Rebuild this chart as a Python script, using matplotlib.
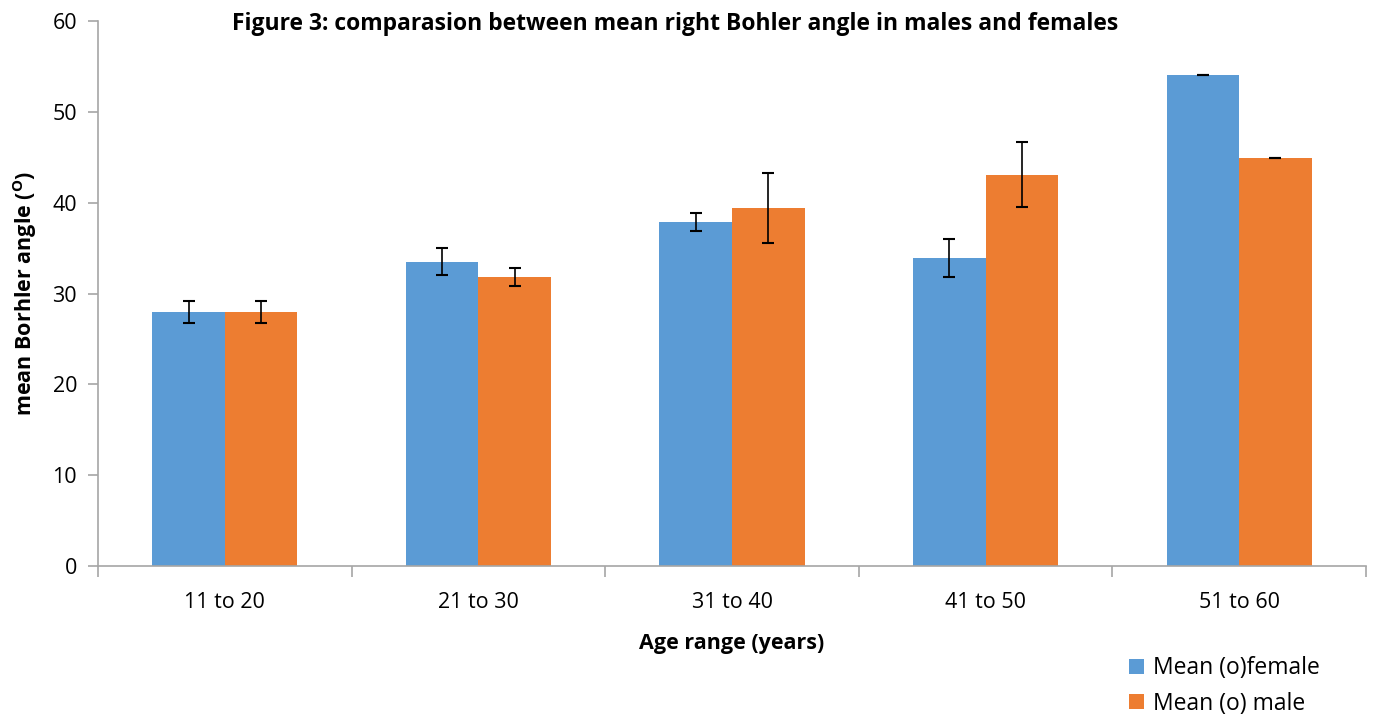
import numpy as np
import matplotlib.pyplot as plt

# data
age_ranges = ['11 to 20', '21 to 30', '31 to 40', '41 to 50', '51 to 60']
female_mean = [28.0, 33.5, 37.9, 33.9, 54.0]
female_err = [1.2, 1.5, 1.0, 2.1, 0.0]
male_mean = [28.0, 31.8, 39.4, 43.1, 44.9]
male_err = [1.2, 1.0, 3.85, 3.6, 0.0]

plt.rcParams['font.family'] = ['Open Sans', 'DejaVu Sans']

fig = plt.figure(figsize=(13.74, 7.19), dpi=100)
ax = fig.add_axes([98/1374, 1 - 566/719, 1268/1374, 545/719])

x = np.arange(len(age_ranges))
w = 0.286
ax.bar(x - w/2, female_mean, w, color='#5B9BD5', label='Mean (o)female',
       yerr=female_err, capsize=4, error_kw=dict(elinewidth=1.2, capthick=1.5, ecolor='black'))
ax.bar(x + w/2, male_mean, w, color='#ED7D31', label='Mean (o) male',
       yerr=male_err, capsize=4, error_kw=dict(elinewidth=1.2, capthick=1.5, ecolor='black'))

ax.set_xlim(-0.5, 4.5)
ax.set_ylim(0, 60)
ax.set_yticks(range(0, 61, 10))
ax.set_xticks(x)
ax.set_xticklabels(age_ranges)
ax.set_xticks(np.arange(-0.5, 5, 1), minor=True)
ax.tick_params(axis='x', which='major', length=0, labelsize=15.5, pad=19)
ax.tick_params(axis='x', which='minor', length=8, color='#A6A6A6', width=1.2)
ax.tick_params(axis='y', length=7, color='#A6A6A6', width=1.2, labelsize=15.5, pad=8)

for s in ['top', 'right']:
    ax.spines[s].set_visible(False)
for s in ['left', 'bottom']:
    ax.spines[s].set_color('#A6A6A6')
    ax.spines[s].set_linewidth(1.2)

ax.set_xlabel('Age range (years)', fontsize=15.5, fontweight='bold', labelpad=14)
ax.set_ylabel(r'mean Borhler angle ($^{\mathregular{O}}$)', fontsize=15.5, fontweight='bold', labelpad=10)

fig.text(675/1374, 1 - 24/719, 'Figure 3: comparasion between mean right Bohler angle in males and females',
         ha='center', va='center', fontsize=16.5, fontweight='bold')

fig.legend(loc='center left', bbox_to_anchor=(1108/1374, 1 - 686/719), frameon=False,
           fontsize=16.5, handlelength=0.65, handleheight=0.65, handletextpad=0.4, labelspacing=0.5)

fig.savefig('out.png', dpi=100)
